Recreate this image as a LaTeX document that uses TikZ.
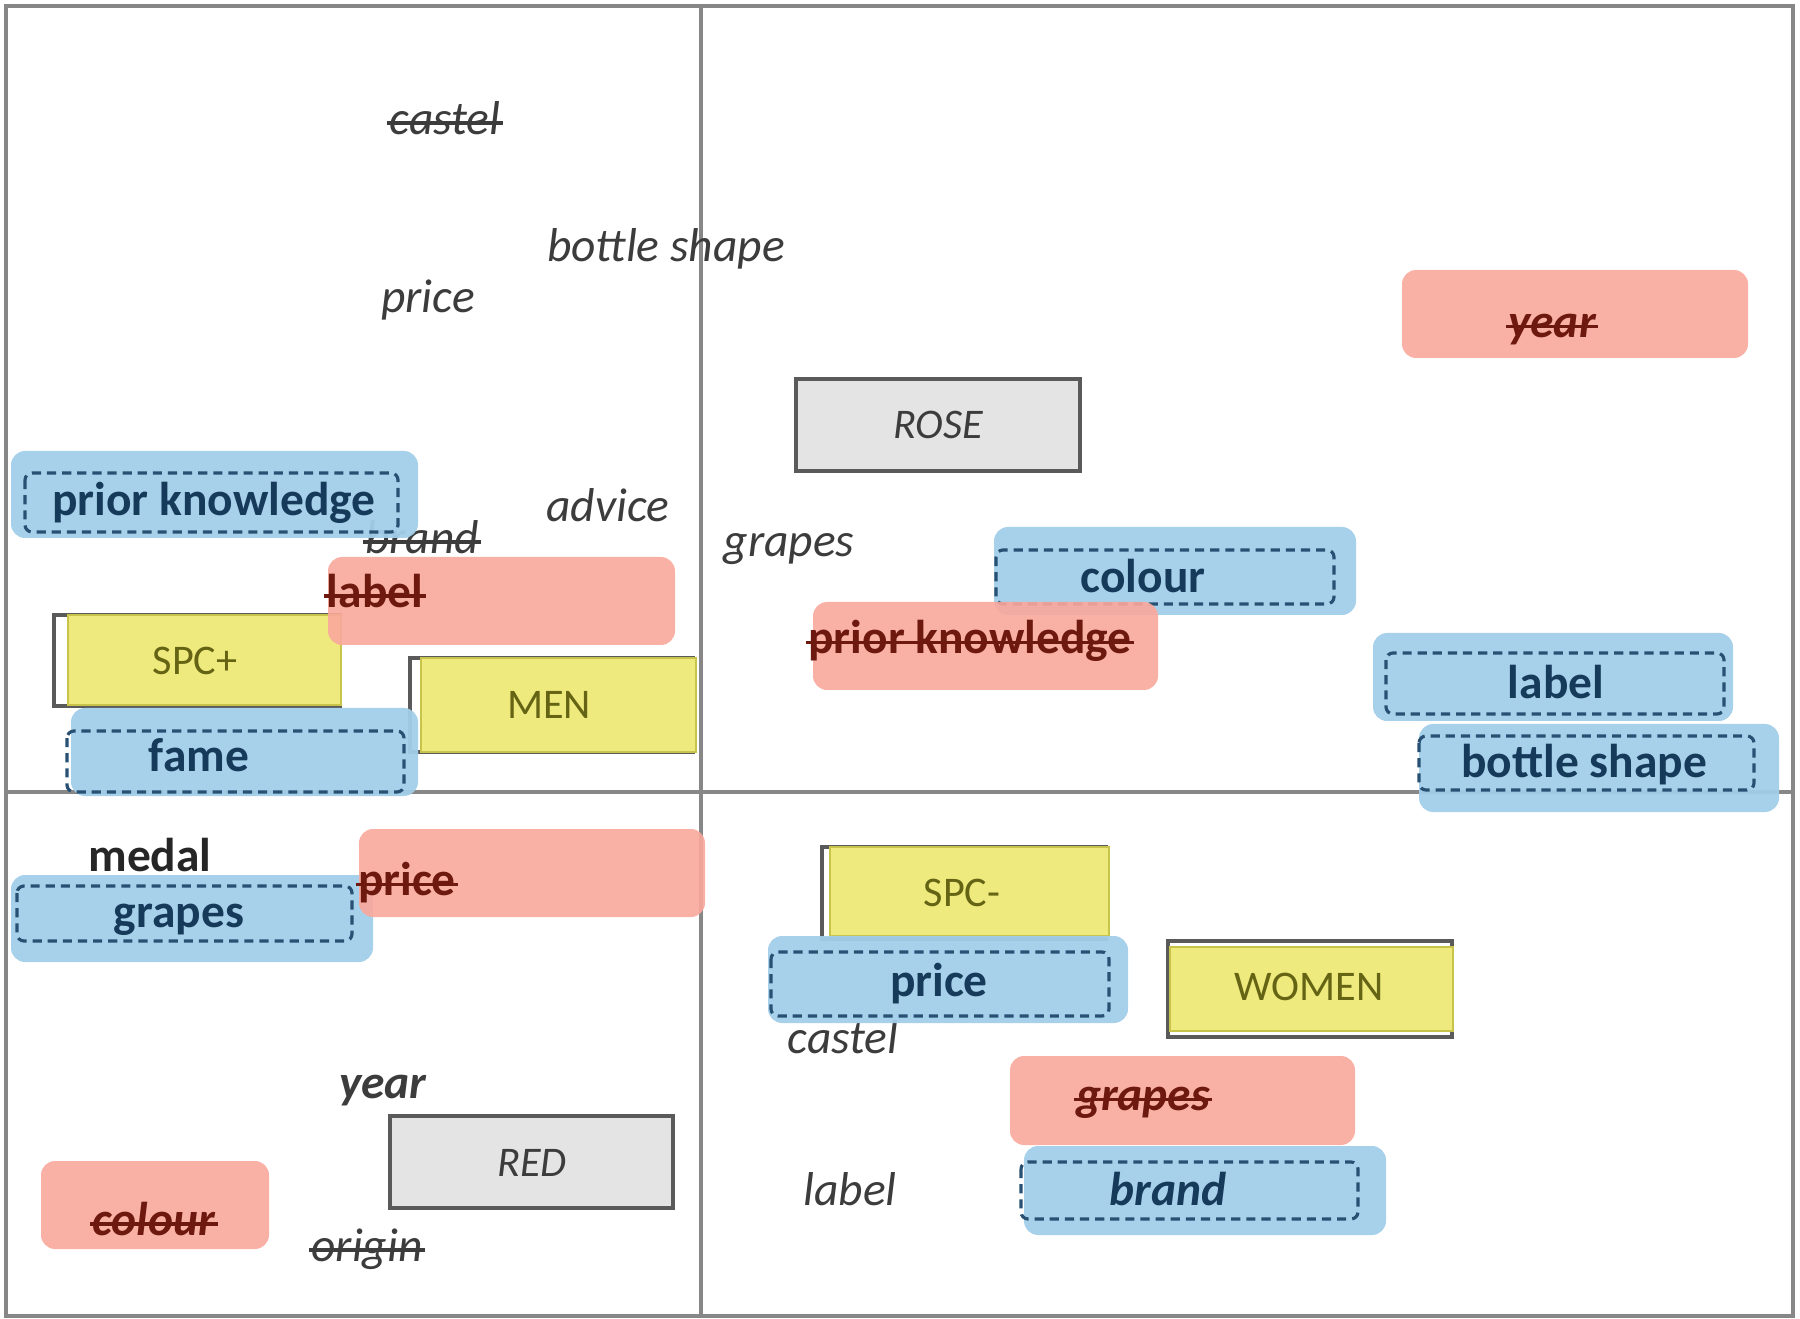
\documentclass[tikz,border=0pt]{standalone}
\usepackage{fontspec}
\setmainfont{Carlito}

\definecolor{linegray}{RGB}{135,135,135}
\definecolor{txtgray}{RGB}{60,60,60}
\definecolor{boxblue}{RGB}{162,206,234}
\definecolor{dashblue}{RGB}{40,80,115}
\definecolor{txtblue}{RGB}{22,58,90}
\definecolor{boxred}{RGB}{250,168,155}
\definecolor{txtred}{RGB}{110,25,15}
\definecolor{boxyel}{RGB}{238,234,125}
\definecolor{edgeyel}{RGB}{200,195,75}
\definecolor{txtyel}{RGB}{100,100,20}
\definecolor{boxgray}{RGB}{228,228,228}
\definecolor{edgegray}{RGB}{90,90,90}

\begin{document}
\begin{tikzpicture}[
  x=0.01cm, y=-0.01cm,
  frame/.style={draw=linegray, line width=1.1pt},
  strikeout/.style={append after command={\pgfextra{\let\strnode\tikzlastnode
      \draw[#1, line width=1pt] ([xshift=0.5pt,yshift=3.2pt]\strnode.base west) -- ([xshift=-0.5pt,yshift=3.2pt]\strnode.base east);}}},
  word/.style={text=txtgray, font=\fontsize{13.5}{15}\selectfont\itshape, inner sep=1pt},
  boldword/.style={text=black!85, font=\fontsize{13.5}{15}\selectfont\bfseries, inner sep=1pt},
  graybox/.style={fill=boxgray, draw=edgegray, line width=1.3pt},
  grayedge/.style={draw=edgegray, line width=1.3pt},
  yelbox/.style={fill=boxyel, draw=edgeyel, line width=0.8pt},
  boxword/.style={font=\fontsize{12}{14}\selectfont, inner sep=1pt},
  bluebg/.style={fill=boxblue, fill opacity=0.95, rounded corners=4pt},
  bluedash/.style={draw=dashblue, line width=0.9pt, dash pattern=on 2.6pt off 1.7pt, rounded corners=2pt},
  bluetxt/.style={text=txtblue, font=\fontsize{13.5}{15}\selectfont\bfseries, inner sep=1pt},
  redbg/.style={fill=boxred, fill opacity=0.9, rounded corners=4pt},
  redtxt/.style={text=txtred, font=\fontsize{13.5}{15}\selectfont\bfseries, inner sep=1pt, strikeout=txtred}
]
  \useasboundingbox (0,0) rectangle (1800,1319);

  % axes
  \draw[frame] (6,6) rectangle (1793,1316);
  \draw[frame] (701,6) -- (701,1316);
  \draw[frame] (6,792) -- (1793,792);

  % plain words
  \node[word, strikeout=txtgray] (castelA) at (445,118) {castel};
  \node[word] (bottleA) at (666,249) {bottle shape};
  \node[word] (priceA)  at (428,300) {price};
  \node[word] (adviceA) at (608,505) {advice};
  \node[word, strikeout=txtgray] (brandA)  at (422,537) {brand};
  \node[word] (grapesB) at (789,549) {grapes};
  \node[boldword] (medalC) at (150,855) {medal};
  \node[word, font=\fontsize{13.5}{15}\selectfont\bfseries\itshape] (yearC) at (383,1091) {year};
  \node[word, strikeout=txtgray] (originC) at (367,1249) {origin};
  \node[word] (castelD) at (843,1037) {castel};
  \node[word] (labelD)  at (850,1189) {label};

  % gray boxes
  \draw[graybox] (796,379) rectangle (1080,471);
  \node[boxword, text=txtgray, font=\fontsize{12}{14}\selectfont\itshape] (rose) at (938,425) {ROSE};
  \draw[graybox] (390,1116) rectangle (673,1208);
  \node[boxword, text=txtgray, font=\fontsize{12}{14}\selectfont\itshape] (red) at (532,1163) {RED};

  % yellow boxes
  \draw[grayedge] (54,615) rectangle (340,706);
  \draw[yelbox] (68,615) rectangle (341,705);
  \node[boxword, text=txtyel] (spcplus) at (195,661) {SPC+};
  \draw[grayedge] (410,658) rectangle (693,752);
  \draw[yelbox] (421,658) rectangle (696,752);
  \node[boxword, text=txtyel] (men) at (549,705) {MEN};
  \draw[grayedge] (822,847) rectangle (1106,939);
  \draw[yelbox] (830,847) rectangle (1109,936);
  \node[boxword, text=txtyel] (spcminus) at (962,893) {SPC-};
  \draw[grayedge] (1168,941) rectangle (1452,1037);
  \draw[yelbox] (1170,947) rectangle (1453,1031);
  \node[boxword, text=txtyel] (women) at (1309,987) {WOMEN};

  % blue boxes
  \path[bluebg] (11,451) rectangle (418,538);
  \draw[bluedash] (25,473) rectangle (398,532);
  \node[bluetxt] (priorA) at (214,503) {prior knowledge};
  \path[bluebg] (71,708) rectangle (418,796);
  \draw[bluedash] (67,731) rectangle (404,792);
  \node[bluetxt] (fameA) at (199,755) {fame};
  \path[bluebg] (11,875) rectangle (373,962);
  \draw[bluedash] (17,886) rectangle (352,941);
  \node[bluetxt] (grapesC) at (179,920) {grapes};
  \path[bluebg] (994,527) rectangle (1356,615);
  \draw[bluedash] (996,550) rectangle (1334,604);
  \node[bluetxt] (colourB) at (1143,576) {colour};
  \path[bluebg] (1373,633) rectangle (1733,721);
  \draw[bluedash] (1386,653) rectangle (1724,714);
  \node[bluetxt] (labelB) at (1556,682) {label};
  \path[bluebg] (1419,724) rectangle (1779,812);
  \draw[bluedash] (1419,736) rectangle (1754,790);
  \node[bluetxt] (bottleB) at (1584,765) {bottle shape};
  \path[bluebg] (768,936) rectangle (1128,1023);
  \draw[bluedash] (771,952) rectangle (1109,1016);
  \node[bluetxt] (priceD) at (939,984) {price};
  \path[bluebg] (1024,1146) rectangle (1386,1235);
  \draw[bluedash] (1021,1162) rectangle (1358,1219);
  \node[bluetxt, font=\fontsize{13.5}{15}\selectfont\bfseries\itshape] (brandD) at (1168,1189) {brand};

  % red boxes
  \path[redbg] (328,557) rectangle (675,645);
  \node[redtxt] (labelA) at (375,591) {label};
  \path[redbg] (359,829) rectangle (705,917);
  \node[redtxt] (priceC) at (407,883) {price};
  \path[redbg] (41,1161) rectangle (269,1249);
  \node[redtxt, font=\fontsize{13.5}{15}\selectfont\bfseries\itshape] (colourC) at (154,1219) {colour};
  \path[redbg] (1402,270) rectangle (1748,358);
  \node[redtxt, font=\fontsize{13.5}{15}\selectfont\bfseries\itshape] (yearB) at (1552,330) {year};
  \path[redbg] (813,602) rectangle (1158,690);
  \node[redtxt] (priorB) at (970,641) {prior knowledge};
  \path[redbg] (1010,1056) rectangle (1355,1145);
  \node[redtxt, font=\fontsize{13.5}{15}\selectfont\bfseries\itshape] (grapesD) at (1143,1103) {grapes};
\end{tikzpicture}
\end{document}
